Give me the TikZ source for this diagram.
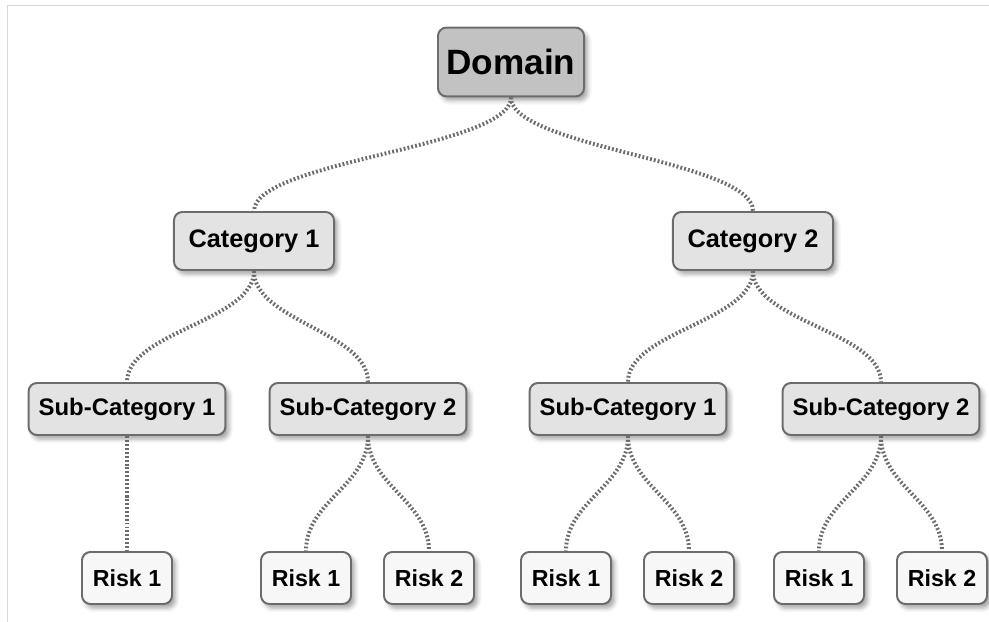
\documentclass[tikz,border=0pt]{standalone}
\usepackage{fontspec}
\setmainfont{Liberation Sans}
\usetikzlibrary{shadows.blur}

\tikzset{
    box/.style={draw=gray!85!black, line width=1.4pt, rounded corners=6pt,
        inner sep=0pt, font=\bfseries,
        blur shadow={shadow xshift=2.5pt, shadow yshift=-3pt,
            shadow blur radius=3pt, shadow opacity=35}},
    domainbox/.style={box, fill=gray!48, minimum width=3.65cm, minimum height=1.72cm,
        font=\fontsize{25}{30}\selectfont\bfseries},
    catbox/.style={box, fill=gray!22, minimum width=4cm, minimum height=1.45cm,
        font=\fontsize{18}{21}\selectfont\bfseries},
    subbox/.style={box, fill=gray!22, minimum width=4.92cm, minimum height=1.3cm,
        font=\fontsize{17}{20}\selectfont\bfseries},
    riskbox/.style={box, fill=gray!6, minimum width=2.25cm, minimum height=1.3cm,
        font=\fontsize{16.5}{19}\selectfont\bfseries},
    link/.style={draw=gray!85!black, line width=2.8pt, dash pattern=on 1.3pt off 1.5pt}
}

\begin{document}
\begin{tikzpicture}[x=0.025cm, y=-0.025cm]

    \useasboundingbox (0,0) rectangle (989,622);

    % Frame
    \draw[gray!30, line width=0.6pt] (7,622) -- (7,5) -- (989,5);

    % Root
    \node[domainbox] (dom) at (511,62) {Domain};

    % Categories
    \node[catbox] (cat1) at (254,241) {Category 1};
    \node[catbox] (cat2) at (753,241) {Category 2};

    % Sub-categories
    \node[subbox] (sub11) at (127,409) {Sub-Category 1};
    \node[subbox] (sub12) at (368,409) {Sub-Category 2};
    \node[subbox] (sub21) at (628,409) {Sub-Category 1};
    \node[subbox] (sub22) at (881,409) {Sub-Category 2};

    % Risks
    \node[riskbox] (r111) at (127,578) {Risk 1};
    \node[riskbox] (r121) at (306,578) {Risk 1};
    \node[riskbox] (r122) at (429,578) {Risk 2};
    \node[riskbox] (r211) at (566,578) {Risk 1};
    \node[riskbox] (r212) at (689,578) {Risk 2};
    \node[riskbox] (r221) at (819,578) {Risk 1};
    \node[riskbox] (r222) at (942,578) {Risk 2};

    % Links
    \foreach \p/\c in {dom/cat1, dom/cat2, cat1/sub11, cat1/sub12, cat2/sub21, cat2/sub22,
        sub11/r111, sub12/r121, sub12/r122, sub21/r211, sub21/r212, sub22/r221, sub22/r222}
        \draw[link] (\p.south) .. controls +(0,-1.25cm) and +(0,1.25cm) .. (\c.north);

\end{tikzpicture}
\end{document}
